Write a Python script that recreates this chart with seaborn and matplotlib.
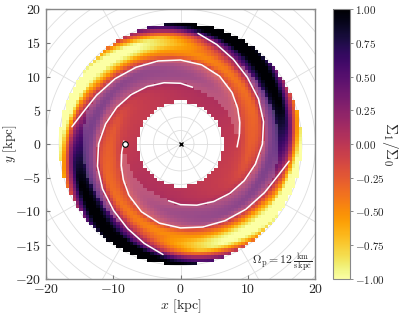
import numpy as np
import pandas as pd
import matplotlib
matplotlib.use('Agg')
import matplotlib.pyplot as plt
from matplotlib.colors import ListedColormap
from matplotlib.ticker import StrMethodFormatter
import seaborn as sns

# m=2 pattern, ring by ring (radius kpc, amplitude, angle of maximum in deg)
ring_r = np.array([6.5, 7, 8, 9, 10, 11, 12, 13, 14, 15, 16, 17, 18])
ring_amp = np.array([0.04, 0.05, 0.07, 0.12, 0.27, 0.30, 0.35, 0.45, 0.55, 0.90, 1.10, 1.20, 1.25])
ring_phase = np.array([55, 60, 65, 75, 90, 108, 128, 162, 188, 203, 215, 238, 256])

# spiral arm tracks (one arm of each pair; the other arm is the same rotated by 180 deg)
arm_a_phi = [78, 90, 105, 120, 135, 150, 165, 180, 195, 210, 225, 238, 250, 261]
arm_a_r = [8.6, 9.0, 9.4, 9.85, 10.35, 10.9, 11.5, 12.15, 12.75, 13.35, 14.0, 14.8, 15.7, 16.6]
arm_b_phi = [-3, 8, 20, 32, 45, 60, 75, 90, 105, 120, 135, 150, 162, 171]
arm_b_r = [8.4, 8.8, 9.35, 10.0, 10.8, 11.6, 12.15, 12.45, 12.75, 13.15, 13.7, 14.4, 15.2, 16.3]

sun_x, sun_y = -8.2, 0.0
r_in, r_out = 6.3, 17.9
band_out = 14.6
cell = 0.5
omega_p = 12

sns.set_style('ticks')
plt.rcParams['font.family'] = 'serif'
plt.rcParams['font.serif'] = ['cmr10']
plt.rcParams['mathtext.fontset'] = 'cm'
plt.rcParams['axes.formatter.use_mathtext'] = True
plt.rcParams['font.size'] = 10

# grid of cells
edges = np.arange(-20, 20 + cell / 2, cell)
cent = 0.5 * (edges[1:] + edges[:-1])
X, Y = np.meshgrid(cent, cent)
R = np.hypot(X, Y)
PHI = np.degrees(np.arctan2(Y, X)) % 360

amp = np.interp(R, ring_r, ring_amp)
phm = np.interp(R, ring_r, ring_phase)
field = amp * np.cos(np.radians(2 * (PHI - phm)))
inside = (R > r_in) & (R < r_out)
field = np.ma.masked_where(~inside, field)

# lighter band between an arm of pair a and the trailing arm of pair b
pa = np.interp(R, arm_a_r, arm_a_phi)
pb = np.interp(R, arm_b_r, arm_b_phi)
d = (pa - PHI) % 180
w = (pa - pb) % 180
band = inside & (d < w) & (R > min(arm_b_r)) & (R < band_out)
band = np.ma.masked_where(~band, np.ones_like(R))

fig = plt.figure(figsize=(4.07, 3.14), dpi=100)
ax = fig.add_axes([0.111, 0.112, 0.665, 0.859])
cax = fig.add_axes([0.818, 0.112, 0.042, 0.859])

# polar grid behind the map
for rr in np.arange(2, 30, 2):
    t = np.linspace(0, 2 * np.pi, 300)
    ax.plot(rr * np.cos(t), rr * np.sin(t), color='#dedede', lw=0.6, zorder=0)
for ang in np.arange(0, 360, 30):
    a = np.radians(ang)
    ax.plot([0, 30 * np.cos(a)], [0, 30 * np.sin(a)], color='#dedede', lw=0.6, zorder=0)

mesh = ax.pcolormesh(edges, edges, field, cmap='inferno_r', vmin=-1, vmax=1, zorder=1)
ax.pcolormesh(edges, edges, band, cmap=ListedColormap(['white']), alpha=0.2, zorder=1.5)

# arms
rows = []
for name, phi, rad in [('a', arm_a_phi, arm_a_r), ('b', arm_b_phi, arm_b_r)]:
    for k, off in enumerate([0, 180]):
        p = np.radians(np.array(phi) + off)
        r = np.array(rad)
        for xi, yi in zip(r * np.cos(p), r * np.sin(p)):
            rows.append({'x': xi, 'y': yi, 'arm': f'{name}{k}'})
arms = pd.DataFrame(rows)
sns.lineplot(data=arms, x='x', y='y', units='arm', estimator=None, sort=False,
             color='white', lw=1.1, ax=ax, legend=False, zorder=3)

ax.plot(sun_x, sun_y, 'o', mfc='white', mec='black', ms=4, mew=0.8, zorder=4)
ax.plot(0, 0, 'x', color='black', ms=3.5, mew=1.0, zorder=4)

ax.text(19.5, -19.4, r'$\Omega_\mathrm{p} = %d\,\frac{\mathrm{km}}{\mathrm{s\,kpc}}$' % omega_p,
        ha='right', va='bottom', fontsize=8.5)

ax.set_xlim(-20, 20)
ax.set_ylim(-20, 20)
ax.set_aspect('equal')
ax.set_xticks([-20, -10, 0, 10, 20])
ax.set_yticks(np.arange(-20, 21, 5))
ax.set_xlabel(r'$x$ [kpc]', labelpad=1)
ax.set_ylabel(r'$y$ [kpc]', fontsize=9.5)
ax.yaxis.set_label_coords(-0.098, 0.5)
ax.tick_params(direction='in', length=3, width=0.8, color='#777777', pad=3)
for s in ax.spines.values():
    s.set_color('#888888')
    s.set_linewidth(1.0)

cb = fig.colorbar(mesh, cax=cax, ticks=np.linspace(-1, 1, 9))
cb.ax.yaxis.set_major_formatter(StrMethodFormatter('${x:.2f}$'))
cb.ax.tick_params(labelsize=8, length=2, width=0.6, pad=1.5, color='#777777')
cb.outline.set_edgecolor('#888888')
cb.set_label(r'$\Sigma_1/\Sigma_0$', rotation=270, labelpad=11, fontsize=11)

fig.savefig('out.png', dpi=100)
